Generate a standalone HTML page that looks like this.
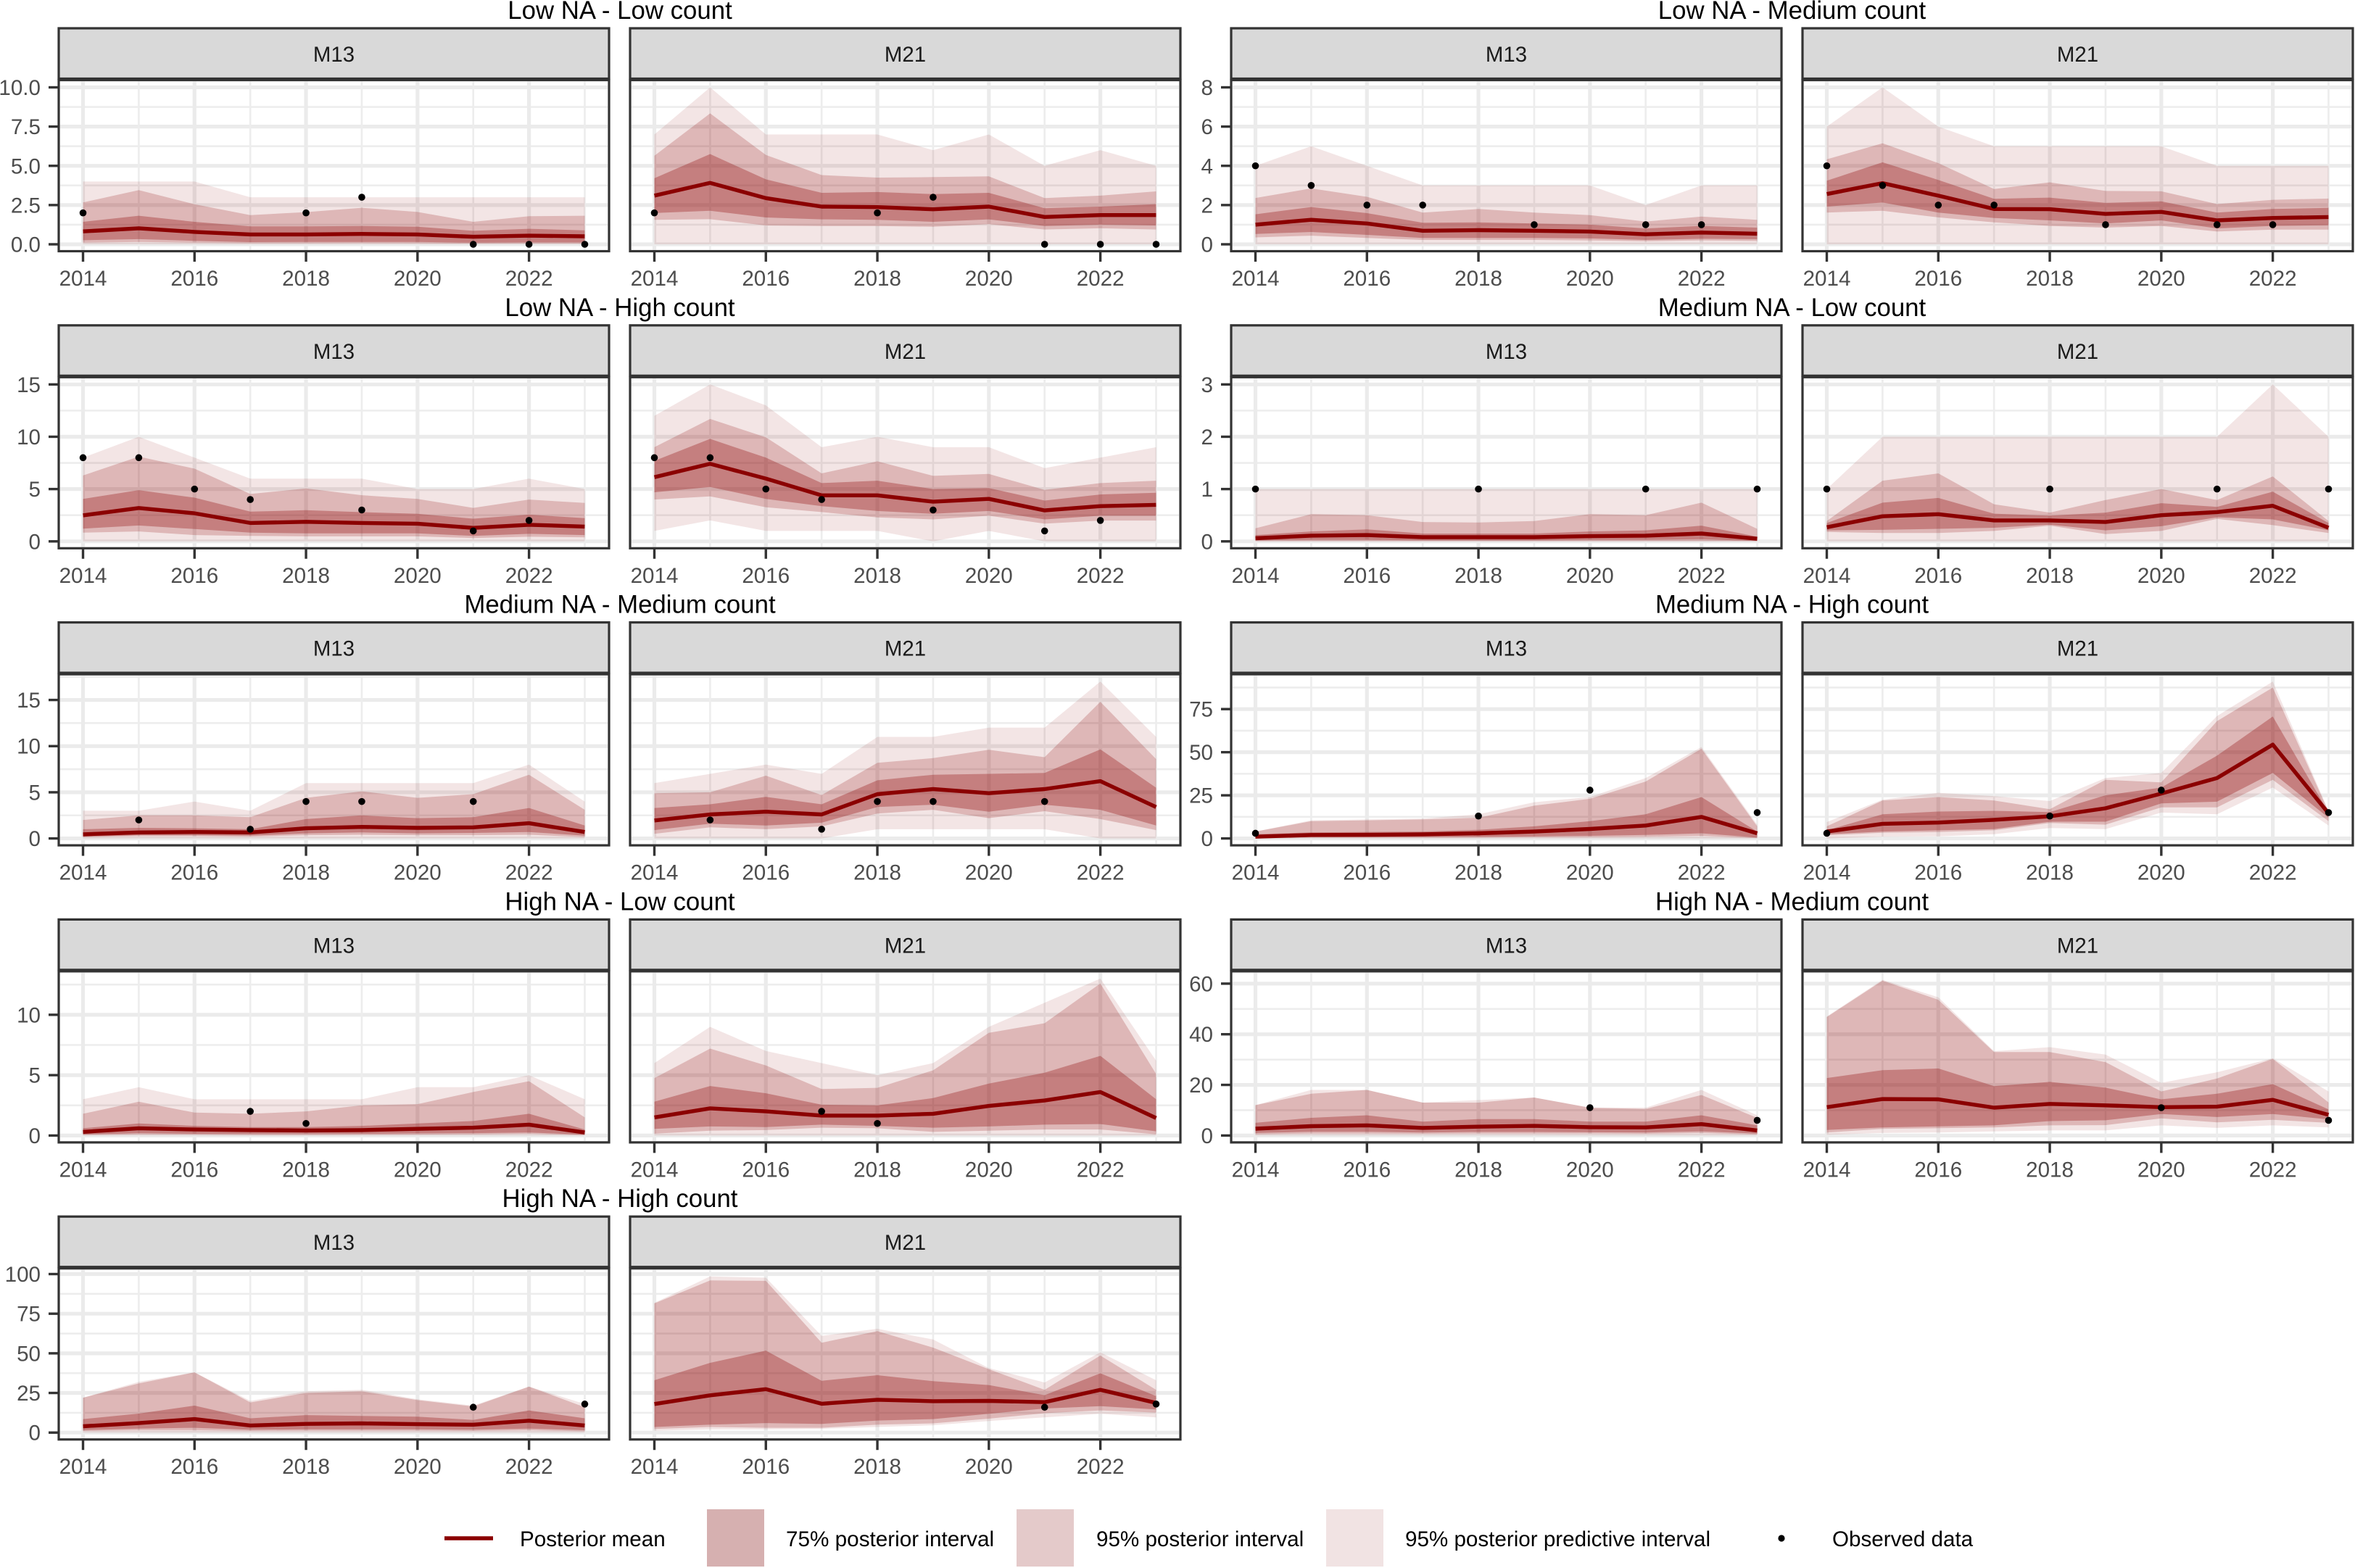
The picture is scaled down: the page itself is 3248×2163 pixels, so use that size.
<!DOCTYPE html>
<html lang="en">
<head>
<meta charset="utf-8">
<title>Posterior intervals by NA and count group</title>
<style>
html,body{margin:0;padding:0;background:#fff;width:3248px;height:2163px;overflow:hidden}
svg{display:block;font-family:"Liberation Sans",Arial,sans-serif}
</style>
</head>
<body>
<svg id="chart" xmlns="http://www.w3.org/2000/svg" width="3248" height="2163" viewBox="0 0 3248 2163">
  <rect x="0" y="0" width="3248" height="2163" fill="#ffffff"/>
  <g id="panels"></g>
  <g id="legend">
    <g>
      <line x1="613" x2="680" y1="2122" y2="2122" stroke="#8b0000" stroke-width="5.4"/>
      <text x="717" y="2133" font-size="29.6" fill="#000">Posterior mean</text>
    </g>
    <g>
      <rect x="975" y="2082" width="79" height="79" fill="#d6b0b0"/>
      <text x="1084" y="2133" font-size="29.7" fill="#000">75% posterior interval</text>
    </g>
    <g>
      <rect x="1402" y="2082" width="79" height="79" fill="#e4caca"/>
      <text x="1512" y="2133" font-size="29.6" fill="#000">95% posterior interval</text>
    </g>
    <g>
      <rect x="1829" y="2082" width="79" height="79" fill="#f1e3e3"/>
      <text x="1938" y="2133" font-size="29.6" fill="#000">95% posterior predictive interval</text>
    </g>
    <g>
      <circle cx="2457" cy="2122" r="4.6" fill="#000"/>
      <text x="2527" y="2133" font-size="29.6" fill="#000">Observed data</text>
    </g>
  </g>
</svg>
<script>
const years=[2014,2015,2016,2017,2018,2019,2020,2021,2022,2023];
const yearLabels=[2014,2016,2018,2020,2022];
const modelNames=["M13","M21"];
const subTitles=["Low NA - Low count","Low NA - Medium count","Low NA - High count","Medium NA - Low count","Medium NA - Medium count","Medium NA - High count","High NA - Low count","High NA - Medium count","High NA - High count"];
const subMax=[10,8,15,3,17,91,13,62,99];
const subBreaks=[[0,2.5,5,7.5,10],[0,2,4,6,8],[0,5,10,15],[0,1,2,3],[0,5,10,15],[0,25,50,75],[0,5,10],[0,20,40,60],[0,25,50,75,100]];
const subBreakLabels=[["0.0","2.5","5.0","7.5","10.0"],["0","2","4","6","8"],["0","5","10","15"],["0","1","2","3"],["0","5","10","15"],["0","25","50","75"],["0","5","10"],["0","20","40","60"],["0","25","50","75","100"]];

/* Low NA - Low count, M13 */
const p01Mean=[.82,1.02,.79,.63,.63,.66,.63,.48,.55,.51];
const p01Lo75=[.26,.33,.22,.14,.15,.15,.15,.1,.12,.12];
const p01Hi75=[1.43,1.82,1.43,1.14,1.14,1.17,1.12,.86,.99,.89];
const p01Lo95=[.1,.15,.1,.07,.07,.08,.07,.05,.06,.05];
const p01Hi95=[2.67,3.45,2.55,1.86,2.05,2.33,2.06,1.43,1.79,1.82];
const p01LoP=[0,0,0,0,0,0,0,0,0,0];
const p01HiP=[4,4,4,3,3,3,3,3,3,3];
const p01Obs=[2,null,null,null,2,3,null,0,0,0];
/* Low NA - Low count, M21 */
const p02Mean=[3.1,3.91,2.94,2.4,2.37,2.23,2.4,1.74,1.86,1.86];
const p02Lo75=[1.99,2.14,1.71,1.59,1.56,1.43,1.59,1.17,1.25,1.2];
const p02Hi75=[4.21,5.75,4.14,3.28,3.33,3.2,3.28,2.3,2.4,2.56];
const p02Lo95=[1.56,1.6,1.2,1.17,1.17,1.12,1.28,.94,1.02,.94];
const p02Hi95=[5.64,8.34,5.69,4.41,4.25,4.28,4.33,2.94,3.1,3.37];
const p02LoP=[0,0,0,0,0,0,0,0,0,0];
const p02HiP=[7,10,7,7,7,6,7,5,6,5];
const p02Obs=[2,null,null,null,2,3,null,0,0,0];
/* Low NA - Medium count, M13 */
const p03Mean=[1,1.25,1.06,.69,.72,.69,.65,.51,.6,.54];
const p03Lo75=[.53,.63,.48,.32,.32,.32,.3,.22,.28,.26];
const p03Hi75=[1.53,1.9,1.59,1.1,1.12,1.06,1,.81,.94,.85];
const p03Lo95=[.35,.44,.32,.22,.22,.22,.2,.16,.2,.17];
const p03Hi95=[2.36,2.85,2.42,1.62,1.8,1.62,1.49,1.16,1.41,1.25];
const p03LoP=[0,0,0,0,0,0,0,0,0,0];
const p03HiP=[4,5,4,3,3,3,3,2,3,3];
const p03Obs=[4,3,2,2,null,1,null,1,1,null];
/* Low NA - Medium count, M21 */
const p04Mean=[2.56,3.12,2.48,1.8,1.79,1.55,1.65,1.22,1.34,1.39];
const p04Lo75=[1.92,2.13,1.62,1.34,1.22,1.06,1.22,.81,.94,.97];
const p04Hi75=[3.24,4.18,3.28,2.32,2.38,2.11,2.19,1.62,1.8,1.86];
const p04Lo95=[1.62,1.71,1.37,1.12,.94,.85,.94,.65,.75,.75];
const p04Hi95=[4.33,5.15,4.14,2.82,3.16,2.72,2.7,2.05,2.27,2.33];
const p04LoP=[0,0,0,0,0,0,0,0,0,0];
const p04HiP=[6,8,6,5,5,5,5,4,4,4];
const p04Obs=[4,3,2,2,null,1,null,1,1,null];
/* Low NA - High count, M13 */
const p05Mean=[2.49,3.19,2.68,1.76,1.87,1.76,1.69,1.29,1.59,1.41];
const p05Lo75=[1.22,1.52,1.18,.83,.76,.76,.76,.53,.72,.6];
const p05Hi75=[4.06,4.9,4.18,2.84,2.98,2.79,2.63,2.17,2.56,2.22];
const p05Lo95=[.83,.95,.6,.53,.48,.48,.48,.32,.44,.39];
const p05Hi95=[6.3,8.1,6.95,4.53,5.06,4.41,4.06,3.2,4,3.67];
const p05LoP=[0,0,0,0,0,0,0,0,0,0];
const p05HiP=[8,10,8,6,6,6,5,5,6,5];
const p05Obs=[8,8,5,4,null,3,null,1,2,null];
/* Low NA - High count, M21 */
const p06Mean=[6.14,7.41,6,4.4,4.4,3.79,4.06,2.96,3.37,3.49];
const p06Lo75=[4.69,5.2,4.06,3.37,2.9,2.63,2.9,2.1,2.45,2.45];
const p06Hi75=[7.7,9.8,8,5.57,5.8,5,5.1,3.9,4.48,4.64];
const p06Lo95=[4,4.3,3.26,2.8,2.29,2.1,2.45,1.69,1.99,1.99];
const p06Hi95=[9,11.7,9.95,6.5,7.65,6.26,6.44,4.92,5.57,5.8];
const p06LoP=[1,2,1,1,1,0,1,0,0,0];
const p06HiP=[12,15,13,9,10,9,9,7,8,9];
const p06Obs=[8,8,5,4,null,3,null,1,2,null];
/* Medium NA - Low count, M13 */
const p07Mean=[.06,.11,.12,.08,.08,.08,.1,.11,.15,.05];
const p07Lo75=[.02,.03,.03,.02,.02,.02,.03,.03,.04,.01];
const p07Hi75=[.12,.19,.23,.15,.15,.15,.19,.21,.3,.09];
const p07Lo95=[.005,.005,.005,.005,.005,.005,.005,.005,.005,.005];
const p07Hi95=[.25,.52,.5,.37,.36,.39,.52,.5,.74,.24];
const p07LoP=[0,0,0,0,0,0,0,0,0,0];
const p07HiP=[1,1,1,1,1,1,1,1,1,1];
const p07Obs=[1,null,null,null,1,null,null,1,null,1];
/* Medium NA - Low count, M21 */
const p08Mean=[.27,.48,.52,.4,.4,.37,.5,.56,.68,.26];
const p08Lo75=[.21,.22,.24,.26,.32,.21,.29,.46,.42,.21];
const p08Hi75=[.35,.74,.83,.53,.49,.55,.73,.66,.95,.35];
const p08Lo95=[.18,.16,.16,.2,.3,.14,.2,.43,.31,.16];
const p08Hi95=[.39,1.16,1.3,.71,.55,.79,1,.79,1.24,.39];
const p08LoP=[0,0,0,0,0,0,0,0,0,0];
const p08HiP=[1,2,2,2,2,2,2,2,3,2];
const p08Obs=[1,null,null,null,1,null,null,1,null,1];
/* Medium NA - Medium count, M13 */
const p09Mean=[.45,.65,.7,.65,1.1,1.25,1.15,1.2,1.65,.7];
const p09Lo75=[.2,.35,.35,.3,.55,.65,.55,.6,.7,.3];
const p09Hi75=[1,1.15,1.1,1,2.1,2.5,2.2,2.3,3.3,1.4];
const p09Lo95=[.15,.25,.25,.2,.35,.4,.35,.35,.4,.15];
const p09Hi95=[2,2.5,2.5,2.3,4.4,5.1,4.4,4.8,6.9,3.1];
const p09LoP=[0,0,0,0,0,0,0,0,0,0];
const p09HiP=[3,3,4,3,6,6,6,6,8,4];
const p09Obs=[null,2,null,1,4,4,null,4,null,null];
/* Medium NA - Medium count, M21 */
const p10Mean=[1.95,2.6,2.9,2.6,4.8,5.35,4.9,5.35,6.2,3.4];
const p10Lo75=[.9,1.6,1.4,1.7,3.4,3.65,2.9,3.65,3.1,1.4];
const p10Hi75=[3.3,3.7,4.5,3.7,6.3,6.9,7,7.1,9.65,5.5];
const p10Lo95=[.5,1.2,1,1.3,2.7,3.1,2.2,2.95,2.1,.9];
const p10Hi95=[4.9,5,6.8,4.7,8.2,8.7,9.6,8.8,14.8,8.6];
const p10LoP=[0,0,0,0,1,1,1,1,0,0];
const p10HiP=[6,7,8,7,11,11,12,12,17,11];
const p10Obs=[null,2,null,1,4,4,null,4,null,null];
/* Medium NA - High count, M13 */
const p11Mean=[1,2,2.1,2.4,3,4,5.5,7.5,12.5,3];
const p11Lo75=[.3,.8,.8,.9,1,1.2,1.5,2,3,.5];
const p11Hi75=[2.5,3.5,3.8,4,5,7,10,14,24,4];
const p11Lo95=[0,.5,.5,.5,.5,.7,.8,1,1.5,.2];
const p11Hi95=[4,10,10.5,11,12,19,23,33,52,7];
const p11LoP=[0,0,0,0,0,0,0,0,0,0];
const p11HiP=[4,10.5,11,11.5,14,21,24,35,53,8];
const p11Obs=[3,null,null,null,13,null,28,null,null,15];
/* Medium NA - High count, M21 */
const p12Mean=[4,8.5,9.2,10.8,12.8,17.5,26,35,54.4,14.6];
const p12Lo75=[2.5,4,4.7,5.4,9.7,9.7,20.3,21.3,38,12];
const p12Hi75=[4.7,14,15.6,16,15.3,25,29.5,48,70.7,15];
const p12Lo95=[1.8,3.3,3.7,4.7,9,8,18,18,34,10];
const p12Hi95=[7,22,24,22,17,34,32.5,68,87.5,15.5];
const p12LoP=[0,1,1.2,2.5,6,5.4,15,14,29.5,7.5];
const p12HiP=[9.5,22.5,26.5,24.5,21.7,35,38,71,91,16];
const p12Obs=[3,null,null,null,13,null,28,null,null,15];
/* High NA - Low count, M13 */
const p13Mean=[.3,.6,.5,.45,.42,.45,.55,.65,.9,.25];
const p13Lo75=[.1,.2,.15,.15,.15,.15,.18,.2,.25,.08];
const p13Hi75=[.6,1,.8,.7,.7,.8,1,1.2,1.8,.5];
const p13Lo95=[.05,.1,.08,.05,.05,.07,.08,.1,.15,.03];
const p13Hi95=[1.8,2.8,1.9,1.8,2,2.5,2.6,3.6,4.5,1.5];
const p13LoP=[0,0,0,0,0,0,0,0,0,0];
const p13HiP=[3,4,3,3,3,3,4,4,5,3];
const p13Obs=[null,null,null,2,1,null,null,null,null,null];
/* High NA - Low count, M21 */
const p14Mean=[1.5,2.25,2,1.65,1.65,1.8,2.45,2.9,3.6,1.45];
const p14Lo75=[.55,.75,.7,.9,.8,.65,.75,.9,.95,.35];
const p14Hi75=[2.8,4.1,3.5,2.55,2.5,3.1,4.3,5.2,6.6,3];
const p14Lo95=[.15,.4,.45,.65,.6,.3,.4,.5,.5,.1];
const p14Hi95=[4.75,7.2,5.8,3.85,3.95,5.4,8.5,9.3,12.6,5.1];
const p14LoP=[0,0,0,0,0,0,0,0,0,0];
const p14HiP=[6,9,7,6,5,6,9,11,13,6.2];
const p14Obs=[null,null,null,2,1,null,null,null,null,null];
/* High NA - Medium count, M13 */
const p15Mean=[2.7,3.7,4,3,3.5,3.8,3.3,3.2,4.5,2];
const p15Lo75=[1,1.5,1.5,1.2,1.4,1.4,1.3,1.2,1.6,.8];
const p15Hi75=[5,7,8,5.5,6.5,6.5,5.5,5.5,8,4];
const p15Lo95=[.5,.8,.8,.7,.8,.8,.8,.7,1,.4];
const p15Hi95=[12,16.5,18,13,13,15,11,10.5,16,7];
const p15LoP=[0,0,0,0,0,0,0,0,0,0];
const p15HiP=[12,18,18,13,14,15,11,11,18,8];
const p15Obs=[null,null,null,null,null,null,11,null,null,6];
/* High NA - Medium count, M21 */
const p16Mean=[11.2,14.4,14.3,11,12.5,11.9,11.2,11.4,14.1,8.2];
const p16Lo75=[2.2,3.2,3.6,4,5.7,6,8.5,7.3,8.5,6.4];
const p16Hi75=[22.7,25.8,26.5,19.5,21.2,18.9,14.3,16.5,20.3,10.3];
const p16Lo95=[1.2,2.6,2.9,3.2,4,4.1,6.8,5.2,6.2,5];
const p16Hi95=[46.8,61.2,53.6,33,33,29,17.4,22.5,30.3,13.1];
const p16LoP=[.3,1,1.2,1.6,2,2,4,3,4,3.2];
const p16HiP=[47,61.5,54.6,33.3,34.9,32,20.8,25,30.5,17.4];
const p16Obs=[null,null,null,null,null,null,11,null,null,6];
/* High NA - High count, M13 */
const p17Mean=[4,6,8.5,4.5,5.5,5.8,5.3,5,7.5,4.5];
const p17Lo75=[1.5,2.5,3,1.8,2,2,2,1.8,2.5,1.5];
const p17Hi75=[8.5,12,17,9,11,10.5,10,8,14,9];
const p17Lo95=[1,1.5,1.5,1,1.2,1.2,1.2,1,1.5,.8];
const p17Hi95=[22,31,38,19,25,26,20.5,16.5,29,16];
const p17LoP=[0,0,0,0,0,0,0,0,0,0];
const p17HiP=[22,32,38,20,26,27,21,17,29,18];
const p17Obs=[null,null,null,null,null,null,null,16,null,18];
/* High NA - High count, M21 */
const p18Mean=[18,23.5,27.4,18.2,20.7,19.8,20,19.2,27,18.7];
const p18Lo75=[3.5,5,6,5.5,7.6,8.5,11.9,15.2,16.7,14.6];
const p18Hi75=[33,44,51.7,32.7,36.2,32.4,30,23.6,37.4,23];
const p18Lo95=[2.3,3.5,3,3,5,5.8,8.8,12.2,14,12.6];
const p18Hi95=[81.5,96,95.7,56.7,64,53.6,40,27,48.6,27];
const p18LoP=[1.2,2,2,2.4,3.5,4.6,7.3,9.6,11.9,9.6];
const p18HiP=[81.8,98.5,97.7,61,65.5,58.7,40.7,31.6,50.6,33];
const p18Obs=[null,null,null,null,null,null,null,16,null,18];

const facets=[
 [0,0,p01Mean,p01Lo75,p01Hi75,p01Lo95,p01Hi95,p01LoP,p01HiP,p01Obs],
 [0,1,p02Mean,p02Lo75,p02Hi75,p02Lo95,p02Hi95,p02LoP,p02HiP,p02Obs],
 [1,0,p03Mean,p03Lo75,p03Hi75,p03Lo95,p03Hi95,p03LoP,p03HiP,p03Obs],
 [1,1,p04Mean,p04Lo75,p04Hi75,p04Lo95,p04Hi95,p04LoP,p04HiP,p04Obs],
 [2,0,p05Mean,p05Lo75,p05Hi75,p05Lo95,p05Hi95,p05LoP,p05HiP,p05Obs],
 [2,1,p06Mean,p06Lo75,p06Hi75,p06Lo95,p06Hi95,p06LoP,p06HiP,p06Obs],
 [3,0,p07Mean,p07Lo75,p07Hi75,p07Lo95,p07Hi95,p07LoP,p07HiP,p07Obs],
 [3,1,p08Mean,p08Lo75,p08Hi75,p08Lo95,p08Hi95,p08LoP,p08HiP,p08Obs],
 [4,0,p09Mean,p09Lo75,p09Hi75,p09Lo95,p09Hi95,p09LoP,p09HiP,p09Obs],
 [4,1,p10Mean,p10Lo75,p10Hi75,p10Lo95,p10Hi95,p10LoP,p10HiP,p10Obs],
 [5,0,p11Mean,p11Lo75,p11Hi75,p11Lo95,p11Hi95,p11LoP,p11HiP,p11Obs],
 [5,1,p12Mean,p12Lo75,p12Hi75,p12Lo95,p12Hi95,p12LoP,p12HiP,p12Obs],
 [6,0,p13Mean,p13Lo75,p13Hi75,p13Lo95,p13Hi95,p13LoP,p13HiP,p13Obs],
 [6,1,p14Mean,p14Lo75,p14Hi75,p14Lo95,p14Hi95,p14LoP,p14HiP,p14Obs],
 [7,0,p15Mean,p15Lo75,p15Hi75,p15Lo95,p15Hi95,p15LoP,p15HiP,p15Obs],
 [7,1,p16Mean,p16Lo75,p16Hi75,p16Lo95,p16Hi95,p16LoP,p16HiP,p16Obs],
 [8,0,p17Mean,p17Lo75,p17Hi75,p17Lo95,p17Hi95,p17LoP,p17HiP,p17Obs],
 [8,1,p18Mean,p18Lo75,p18Hi75,p18Lo95,p18Hi95,p18LoP,p18HiP,p18Obs]
];

const NS='http://www.w3.org/2000/svg';
const root=document.getElementById('panels');
function mk(parent,tag,attrs,txt){
  const e=document.createElementNS(NS,tag);
  for(const k in attrs){e.setAttribute(k,attrs[k]);}
  if(txt!==undefined){e.textContent=txt;}
  parent.appendChild(e);
  return e;
}
const colLeft=[[81,869],[1698,2486]];
const panelW=759;
const xPad=33.5;
const yearSpan=years[years.length-1]-years[0];
function rowTop(r){return 39+r*409.8;}
function xScale(left,yr){return left+xPad+(yr-years[0])/yearSpan*(panelW-2*xPad);}
function yScale(top,ymax,v){return top+298-(v/ymax)*216.5;}
function bandPath(left,top,ymax,lo,hi){
  const up=years.map((yr,i)=>xScale(left,yr).toFixed(1)+','+yScale(top,ymax,hi[i]).toFixed(1));
  const dn=years.map((yr,i)=>xScale(left,yr).toFixed(1)+','+yScale(top,ymax,lo[i]).toFixed(1)).reverse();
  return up.concat(dn).join(' ');
}

subTitles.forEach(function(t,s){
  const r=Math.floor(s/2), c=s%2;
  const cx=c===0?855:2471.5;
  const el=mk(root,'text',{x:cx,y:26+r*409.8,'font-size':34.8,'text-anchor':'middle',fill:'#000'},t);
  
  
});

facets.forEach(function(f){
  const s=f[0], m=f[1];
  const r=Math.floor(s/2), c=s%2;
  const left=colLeft[c][m], top=rowTop(r), ymax=subMax[s];
  const breaks=subBreaks[s], labels=subBreakLabels[s];
  const pTop=top+71.5, pBot=top+307.5, right=left+panelW;

  const g=mk(root,'g',{});
  
  

  const strip=mk(g,'rect',{x:left,y:top,width:panelW,height:69.5,fill:'#d9d9d9',stroke:'#333333','stroke-width':3.2});
  
  
  const stripText=mk(g,'text',{x:left+panelW/2,y:top+46,'font-size':29.4,'text-anchor':'middle',fill:'#1a1a1a'},modelNames[m]);
  
  

  const step=breaks[1]-breaks[0];
  for(let v=step/2;v<=ymax*1.05;v+=step){
    const mg=mk(g,'line',{x1:left+2,x2:right-2,y1:yScale(top,ymax,v),y2:yScale(top,ymax,v),stroke:'#ededed','stroke-width':2.6});
    
    
  }
  breaks.forEach(function(v){
    const gl=mk(g,'line',{x1:left+2,x2:right-2,y1:yScale(top,ymax,v),y2:yScale(top,ymax,v),stroke:'#ebebeb','stroke-width':5.2});
    
    
  });
  years.forEach(function(yr){
    const maj=yearLabels.indexOf(yr)>=0;
    const gl=mk(g,'line',{x1:xScale(left,yr),x2:xScale(left,yr),y1:pTop+2,y2:pBot-2,stroke:maj?'#ebebeb':'#ededed','stroke-width':maj?5.2:2.6});
    
    
  });

  const pred=mk(g,'polygon',{points:bandPath(left,top,ymax,f[7],f[8]),fill:'#8b0000','fill-opacity':0.1});
  
  
  const b95=mk(g,'polygon',{points:bandPath(left,top,ymax,f[5],f[6]),fill:'#8b0000','fill-opacity':0.2});
  
  
  const b75=mk(g,'polygon',{points:bandPath(left,top,ymax,f[3],f[4]),fill:'#8b0000','fill-opacity':0.3});
  
  

  const line=mk(g,'polyline',{points:years.map((yr,i)=>xScale(left,yr).toFixed(1)+','+yScale(top,ymax,f[2][i]).toFixed(1)).join(' '),fill:'none',stroke:'#8b0000','stroke-width':5.4,'stroke-linejoin':'round'});
  
  

  f[9].forEach(function(v,i){
    if(v===null){return;}
    const pt=mk(g,'circle',{cx:xScale(left,years[i]),cy:yScale(top,ymax,v),r:4.8,fill:'#000'});
    
    
  });

  const border=mk(g,'rect',{x:left,y:pTop,width:panelW,height:pBot-pTop,fill:'none',stroke:'#333333','stroke-width':3.2});
  
  

  yearLabels.forEach(function(yr){
    const x=xScale(left,yr);
    const tk=mk(g,'line',{x1:x,x2:x,y1:pBot,y2:pBot+14.5,stroke:'#333333','stroke-width':3.4});
    
    
    const tl=mk(g,'text',{x:x,y:top+355,'font-size':29.6,'text-anchor':'middle',fill:'#4d4d4d'},String(yr));
    
    
  });

  if(m===0){
    breaks.forEach(function(v,i){
      const y=yScale(top,ymax,v);
      const tk=mk(g,'line',{x1:left-14,x2:left,y1:y,y2:y,stroke:'#333333','stroke-width':3.4});
      
      
      const tl=mk(g,'text',{x:left-25,y:y+10.5,'font-size':29.6,'text-anchor':'end',fill:'#4d4d4d'},labels[i]);
      
      
    });
  }
});
</script>
</body>
</html>
